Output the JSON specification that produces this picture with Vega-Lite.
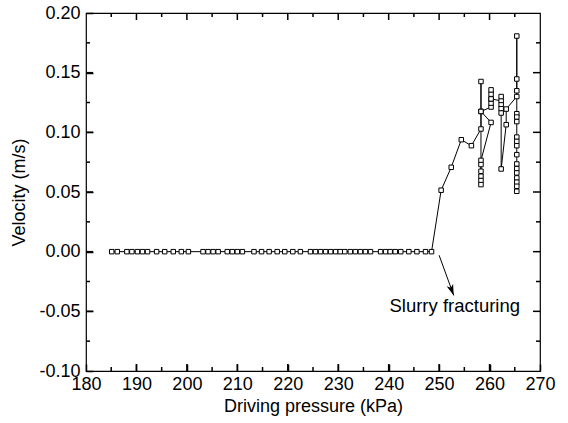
{
  "$schema": "https://vega.github.io/schema/vega-lite/v6.json",
  "width": 454,
  "height": 358,
  "autosize": {"type": "none"},
  "padding": {"left": 86, "top": 13, "right": 28, "bottom": 52},
  "background": "white",
  "config": {
    "view": {"stroke": "black", "strokeWidth": 1.2},
    "axis": {
      "grid": false,
      "domain": false,
      "labelColor": "black",
      "titleColor": "black",
      "labelFont": "Liberation Sans",
      "titleFont": "Liberation Sans",
      "labelFontSize": 18,
      "titleFontSize": 18,
      "titleFontWeight": "normal",
      "labelFlush": false,
      "labelOverlap": false
    }
  },
  "datasets": {
    "series": [
      {"i": 1, "p": 185.1, "v": 0}, {"i": 2, "p": 186.2, "v": 0}, {"i": 3, "p": 188.1, "v": 0}, {"i": 4, "p": 189.1, "v": 0},
      {"i": 5, "p": 190.2, "v": 0}, {"i": 6, "p": 191.2, "v": 0}, {"i": 7, "p": 192.2, "v": 0}, {"i": 8, "p": 194.0, "v": 0},
      {"i": 9, "p": 195.6, "v": 0}, {"i": 10, "p": 197.3, "v": 0}, {"i": 11, "p": 198.9, "v": 0}, {"i": 12, "p": 200.3, "v": 0},
      {"i": 13, "p": 203.2, "v": 0}, {"i": 14, "p": 204.2, "v": 0}, {"i": 15, "p": 205.2, "v": 0}, {"i": 16, "p": 206.2, "v": 0},
      {"i": 17, "p": 208.0, "v": 0}, {"i": 18, "p": 209.0, "v": 0}, {"i": 19, "p": 210.0, "v": 0}, {"i": 20, "p": 211.0, "v": 0},
      {"i": 21, "p": 213.3, "v": 0}, {"i": 22, "p": 214.8, "v": 0}, {"i": 23, "p": 216.3, "v": 0}, {"i": 24, "p": 217.9, "v": 0},
      {"i": 25, "p": 219.4, "v": 0}, {"i": 26, "p": 221.0, "v": 0}, {"i": 27, "p": 222.5, "v": 0}, {"i": 28, "p": 224.5, "v": 0},
      {"i": 29, "p": 225.5, "v": 0}, {"i": 30, "p": 226.5, "v": 0}, {"i": 31, "p": 227.5, "v": 0}, {"i": 32, "p": 228.5, "v": 0},
      {"i": 33, "p": 229.5, "v": 0}, {"i": 34, "p": 230.4, "v": 0}, {"i": 35, "p": 231.3, "v": 0}, {"i": 36, "p": 232.4, "v": 0},
      {"i": 37, "p": 233.4, "v": 0}, {"i": 38, "p": 234.4, "v": 0}, {"i": 39, "p": 235.4, "v": 0}, {"i": 40, "p": 236.4, "v": 0},
      {"i": 41, "p": 238.4, "v": 0}, {"i": 42, "p": 239.4, "v": 0}, {"i": 43, "p": 240.3, "v": 0}, {"i": 44, "p": 241.3, "v": 0},
      {"i": 45, "p": 242.4, "v": 0}, {"i": 46, "p": 244.0, "v": 0}, {"i": 47, "p": 245.6, "v": 0}, {"i": 48, "p": 247.3, "v": 0},
      {"i": 49, "p": 248.5, "v": 0},
      {"i": 50, "p": 250.4, "v": 0.0515},
      {"i": 51, "p": 252.4, "v": 0.0707},
      {"i": 52, "p": 254.4, "v": 0.0938},
      {"i": 53, "p": 256.4, "v": 0.0888},
      {"i": 54, "p": 258.3, "v": 0.1028},
      {"i": 55, "p": 258.3, "v": 0.1426},
      {"i": 56, "p": 258.3, "v": 0.1175},
      {"i": 57, "p": 260.3, "v": 0.1083},
      {"i": 58, "p": 258.3, "v": 0.0765},
      {"i": 59, "p": 258.3, "v": 0.0730},
      {"i": 60, "p": 258.3, "v": 0.0674},
      {"i": 61, "p": 258.3, "v": 0.0632},
      {"i": 62, "p": 258.3, "v": 0.0596},
      {"i": 63, "p": 258.3, "v": 0.0562},
      {"i": 64, "p": 258.3, "v": 0.1175},
      {"i": 65, "p": 260.3, "v": 0.1212},
      {"i": 66, "p": 260.3, "v": 0.1245},
      {"i": 67, "p": 260.3, "v": 0.1280},
      {"i": 68, "p": 260.3, "v": 0.1320},
      {"i": 69, "p": 260.3, "v": 0.1356},
      {"i": 70, "p": 260.3, "v": 0.1280},
      {"i": 71, "p": 262.3, "v": 0.1264},
      {"i": 72, "p": 262.3, "v": 0.1300},
      {"i": 73, "p": 262.3, "v": 0.1230},
      {"i": 74, "p": 262.3, "v": 0.1198},
      {"i": 75, "p": 262.3, "v": 0.1162},
      {"i": 76, "p": 262.3, "v": 0.0693},
      {"i": 77, "p": 263.3, "v": 0.1064},
      {"i": 78, "p": 263.3, "v": 0.1195},
      {"i": 79, "p": 265.4, "v": 0.1300},
      {"i": 80, "p": 265.4, "v": 0.1348},
      {"i": 81, "p": 265.4, "v": 0.1447},
      {"i": 82, "p": 265.4, "v": 0.1807},
      {"i": 83, "p": 265.4, "v": 0.1156},
      {"i": 84, "p": 265.4, "v": 0.1128},
      {"i": 85, "p": 265.4, "v": 0.1090},
      {"i": 86, "p": 265.4, "v": 0.0960},
      {"i": 87, "p": 265.4, "v": 0.0924},
      {"i": 88, "p": 265.4, "v": 0.0888},
      {"i": 89, "p": 265.4, "v": 0.0813},
      {"i": 90, "p": 265.4, "v": 0.0735},
      {"i": 91, "p": 265.4, "v": 0.0696},
      {"i": 92, "p": 265.4, "v": 0.0660},
      {"i": 93, "p": 265.4, "v": 0.0618},
      {"i": 94, "p": 265.4, "v": 0.0582},
      {"i": 95, "p": 265.4, "v": 0.0548},
      {"i": 96, "p": 265.4, "v": 0.0506}
    ],
    "xticks": [
      {"t": 190, "major": true}, {"t": 200, "major": true}, {"t": 210, "major": true}, {"t": 220, "major": true},
      {"t": 230, "major": true}, {"t": 240, "major": true}, {"t": 250, "major": true}, {"t": 260, "major": true},
      {"t": 185, "major": false}, {"t": 195, "major": false}, {"t": 205, "major": false}, {"t": 215, "major": false},
      {"t": 225, "major": false}, {"t": 235, "major": false}, {"t": 245, "major": false}, {"t": 255, "major": false},
      {"t": 265, "major": false}
    ],
    "yticks": [
      {"t": -0.05, "major": true}, {"t": 0, "major": true}, {"t": 0.05, "major": true}, {"t": 0.1, "major": true}, {"t": 0.15, "major": true},
      {"t": -0.075, "major": false}, {"t": -0.025, "major": false}, {"t": 0.025, "major": false}, {"t": 0.075, "major": false},
      {"t": 0.125, "major": false}, {"t": 0.175, "major": false}
    ],
    "anno": [
      {"label": "Slurry fracturing", "x0": 250.0, "y0": -0.003, "x1": 252.9, "y1": -0.0367, "tx": 253.1, "ty": -0.0455}
    ]
  },
  "layer": [
    {
      "data": {"name": "series"},
      "mark": {"type": "line", "color": "black", "strokeWidth": 1},
      "encoding": {
        "x": {
          "field": "p", "type": "quantitative",
          "scale": {"domain": [180, 270], "nice": false, "zero": false},
          "axis": {
            "orient": "bottom",
            "title": "Driving pressure (kPa)",
            "values": [180, 190, 200, 210, 220, 230, 240, 250, 260, 270],
            "tickColor": "black",
            "tickWidth": 1.5,
            "tickSize": -7,
            "labelPadding": 11,
            "titlePadding": 4
          }
        },
        "y": {
          "field": "v", "type": "quantitative",
          "scale": {"domain": [-0.1, 0.2], "nice": false, "zero": false},
          "axis": {
            "orient": "left",
            "title": "Velocity (m/s)",
            "values": [-0.1, -0.05, 0, 0.05, 0.1, 0.15, 0.2],
            "format": ".2f",
            "labelExpr": "replace(datum.label, '\u2212', '-')",
            "tickColor": "black",
            "tickWidth": 1.5,
            "tickSize": -7,
            "labelPadding": 13,
            "titlePadding": 10
          }
        },
        "order": {"field": "i", "type": "quantitative"}
      }
    },
    {
      "data": {"name": "xticks"},
      "transform": [{"filter": "datum.major"}],
      "mark": {"type": "rule", "color": "black", "strokeWidth": 1.5, "y2Offset": -7},
      "encoding": {
        "x": {"field": "t", "type": "quantitative", "axis": null},
        "y": {"datum": -0.1, "type": "quantitative", "axis": null},
        "y2": {"datum": -0.1}
      }
    },
    {
      "data": {"name": "xticks"},
      "transform": [{"filter": "!datum.major"}],
      "mark": {"type": "rule", "color": "black", "strokeWidth": 1.5, "y2Offset": -4},
      "encoding": {
        "x": {"field": "t", "type": "quantitative", "axis": null},
        "y": {"datum": -0.1, "type": "quantitative", "axis": null},
        "y2": {"datum": -0.1}
      }
    },
    {
      "data": {"name": "xticks"},
      "transform": [{"filter": "datum.major"}],
      "mark": {"type": "rule", "color": "black", "strokeWidth": 1.5, "y2Offset": 7},
      "encoding": {
        "x": {"field": "t", "type": "quantitative", "axis": null},
        "y": {"datum": 0.2, "type": "quantitative", "axis": null},
        "y2": {"datum": 0.2}
      }
    },
    {
      "data": {"name": "xticks"},
      "transform": [{"filter": "!datum.major"}],
      "mark": {"type": "rule", "color": "black", "strokeWidth": 1.5, "y2Offset": 4},
      "encoding": {
        "x": {"field": "t", "type": "quantitative", "axis": null},
        "y": {"datum": 0.2, "type": "quantitative", "axis": null},
        "y2": {"datum": 0.2}
      }
    },
    {
      "data": {"name": "yticks"},
      "transform": [{"filter": "datum.major"}],
      "mark": {"type": "rule", "color": "black", "strokeWidth": 1.5, "x2Offset": 7},
      "encoding": {
        "y": {"field": "t", "type": "quantitative", "axis": null},
        "x": {"datum": 180, "type": "quantitative", "axis": null},
        "x2": {"datum": 180}
      }
    },
    {
      "data": {"name": "yticks"},
      "transform": [{"filter": "!datum.major"}],
      "mark": {"type": "rule", "color": "black", "strokeWidth": 1.5, "x2Offset": 4},
      "encoding": {
        "y": {"field": "t", "type": "quantitative", "axis": null},
        "x": {"datum": 180, "type": "quantitative", "axis": null},
        "x2": {"datum": 180}
      }
    },
    {
      "data": {"name": "yticks"},
      "transform": [{"filter": "datum.major"}],
      "mark": {"type": "rule", "color": "black", "strokeWidth": 1.5, "x2Offset": -7},
      "encoding": {
        "y": {"field": "t", "type": "quantitative", "axis": null},
        "x": {"datum": 270, "type": "quantitative", "axis": null},
        "x2": {"datum": 270}
      }
    },
    {
      "data": {"name": "yticks"},
      "transform": [{"filter": "!datum.major"}],
      "mark": {"type": "rule", "color": "black", "strokeWidth": 1.5, "x2Offset": -4},
      "encoding": {
        "y": {"field": "t", "type": "quantitative", "axis": null},
        "x": {"datum": 270, "type": "quantitative", "axis": null},
        "x2": {"datum": 270}
      }
    },
    {
      "data": {"name": "series"},
      "mark": {"type": "point", "shape": "square", "filled": true, "fill": "white", "stroke": "black", "strokeWidth": 1, "size": 20, "opacity": 1},
      "encoding": {
        "x": {"field": "p", "type": "quantitative", "axis": null},
        "y": {"field": "v", "type": "quantitative", "axis": null}
      }
    },
    {
      "data": {"name": "anno"},
      "mark": {"type": "rule", "color": "black", "strokeWidth": 1},
      "encoding": {
        "x": {"field": "x0", "type": "quantitative", "axis": null},
        "y": {"field": "y0", "type": "quantitative", "axis": null},
        "x2": {"field": "x1"},
        "y2": {"field": "y1"}
      }
    },
    {
      "data": {"name": "anno"},
      "mark": {"type": "point", "shape": "M-0.5,-1.6L0,0L0.5,-1.6L0,-1.2Z", "filled": true, "color": "black", "size": 190, "angle": -20.6, "opacity": 1},
      "encoding": {
        "x": {"field": "x1", "type": "quantitative", "axis": null},
        "y": {"field": "y1", "type": "quantitative", "axis": null}
      }
    },
    {
      "data": {"name": "anno"},
      "mark": {"type": "text", "font": "Liberation Sans", "fontSize": 18.5, "color": "black", "align": "center", "baseline": "middle"},
      "encoding": {
        "x": {"field": "tx", "type": "quantitative", "axis": null},
        "y": {"field": "ty", "type": "quantitative", "axis": null},
        "text": {"field": "label"}
      }
    }
  ],
  "resolve": {"axis": {"x": "independent", "y": "independent"}}
}
